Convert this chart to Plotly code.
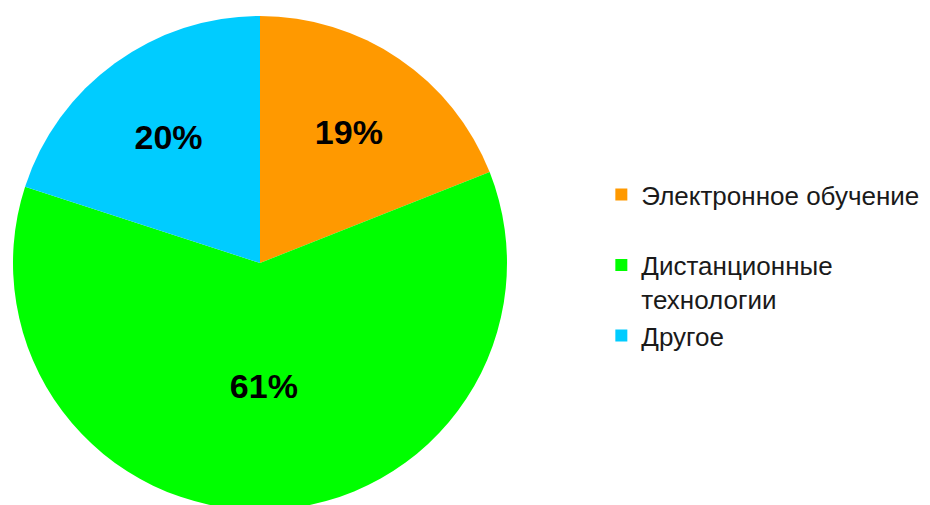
import plotly.graph_objects as go

labels = ["Электронное обучение<br>\u00a0", "Дистанционные<br>технологии", "Другое"]
values = [19, 61, 20]
colors = ["#FF9900", "#00FF00", "#00CCFF"]

fig = go.Figure(go.Pie(
    labels=labels,
    values=values,
    marker=dict(colors=colors, line=dict(width=0)),
    sort=False,
    direction="clockwise",
    rotation=0,
    texttemplate="<b>%{percent:.0%}</b>",
    textposition="inside",
    insidetextorientation="horizontal",
    textfont=dict(family="Liberation Sans, Arial, sans-serif", size=34, color="black"),
    domain=dict(x=[5/930, 499/930], y=[3/505, 1-8/505]),
    hoverinfo="label+percent",
))

fig.update_layout(
    width=930, height=505,
    margin=dict(l=0, r=0, t=0, b=0),
    paper_bgcolor="white",
    plot_bgcolor="white",
    showlegend=True,
    legend=dict(
        x=0.638, y=1-163/505, xanchor="left", yanchor="top",
        font=dict(family="Liberation Sans, Arial, sans-serif", size=26, color="#1a1a1a"),
        valign="top",
        itemwidth=30,
        tracegroupgap=0,
    ),
)

fig.write_html("out.html")
